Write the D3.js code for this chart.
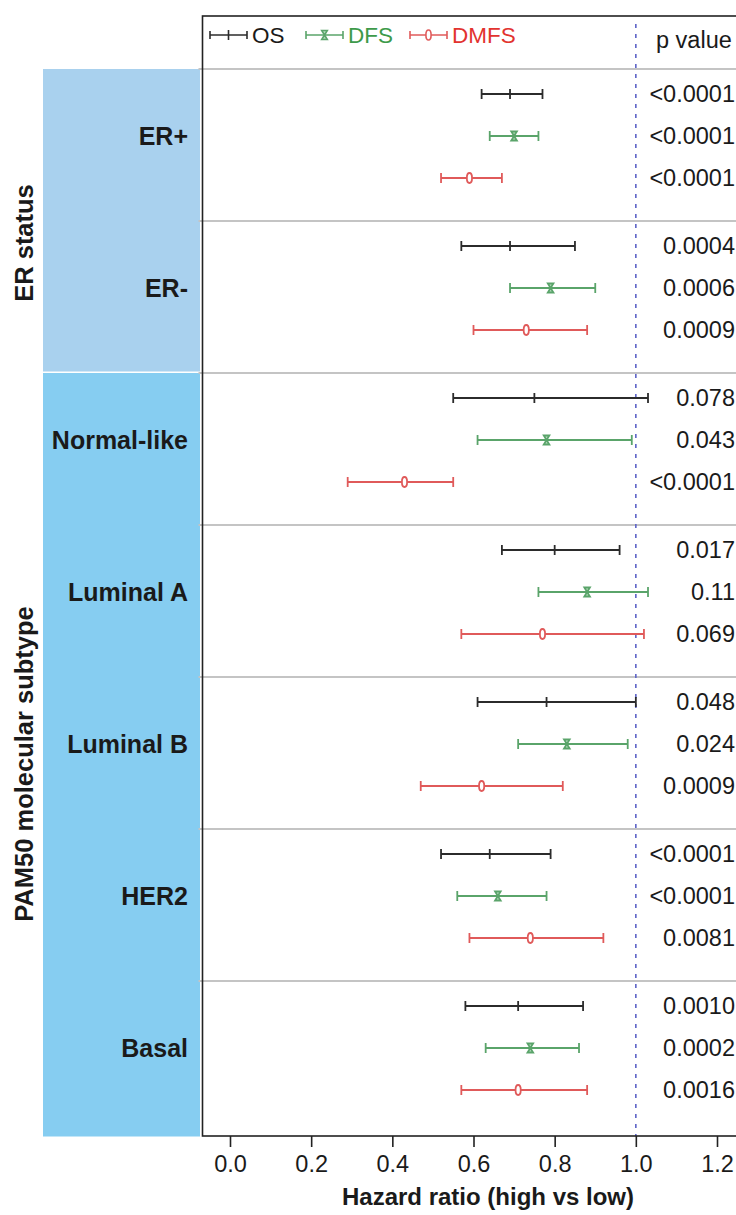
<!DOCTYPE html>
<html lang="en">
  <head>
    <meta charset="UTF-8" />
    <title>Hazard ratio forest plot</title>
    <script src="https://d3js.org/d3.v7.min.js"></script>
    <style>
      * {
        margin: 0;
        padding: 0;
      }
      body {
        background: #fff;
      }
      text {
        font-family: "Liberation Sans", Arial, Helvetica, sans-serif;
        fill: #1a1a1a;
      }
      .cat {
        font-size: 25px;
        font-weight: bold;
      }
      .side {
        font-size: 25.5px;
        font-weight: bold;
      }
      .pval {
        font-size: 23.5px;
      }
      .legend {
        font-size: 22.5px;
      }
      .axis text {
        font-size: 23.5px;
      }
      .axis-title {
        font-size: 24px;
        font-weight: bold;
      }
    </style>
  </head>

  <body></body>

  <script>
    let w = 736;
    let h = 1215;

    // data
    let groups = ["ER+", "ER-", "Normal-like", "Luminal A", "Luminal B", "HER2", "Basal"];
    let series = ["OS", "DFS", "DMFS"];
    let ticks = [0.0, 0.2, 0.4, 0.6, 0.8, 1.0, 1.2];

    let hrOS = [0.69, 0.69, 0.75, 0.8, 0.78, 0.64, 0.71];
    let loOS = [0.62, 0.57, 0.55, 0.67, 0.61, 0.52, 0.58];
    let hiOS = [0.77, 0.85, 1.03, 0.96, 1.0, 0.79, 0.87];
    let pOS = ["<0.0001", "0.0004", "0.078", "0.017", "0.048", "<0.0001", "0.0010"];

    let hrDFS = [0.7, 0.79, 0.78, 0.88, 0.83, 0.66, 0.74];
    let loDFS = [0.64, 0.69, 0.61, 0.76, 0.71, 0.56, 0.63];
    let hiDFS = [0.76, 0.9, 0.99, 1.03, 0.98, 0.78, 0.86];
    let pDFS = ["<0.0001", "0.0006", "0.043", "0.11", "0.024", "<0.0001", "0.0002"];

    let hrDMFS = [0.59, 0.73, 0.43, 0.77, 0.62, 0.74, 0.71];
    let loDMFS = [0.52, 0.6, 0.29, 0.57, 0.47, 0.59, 0.57];
    let hiDMFS = [0.67, 0.88, 0.55, 1.02, 0.82, 0.92, 0.88];
    let pDMFS = ["<0.0001", "0.0009", "<0.0001", "0.069", "0.0009", "0.0081", "0.0016"];

    // panel groups on the left
    let panels = [
      { name: "ER status", members: ["ER+", "ER-"], color: "#a9d1ee" },
      { name: "PAM50 molecular subtype", members: ["Normal-like", "Luminal A", "Luminal B", "HER2", "Basal"], color: "#86cdf1" },
    ];

    let colors = { OS: "#2b2b2b", DFS: "#5aa46a", DMFS: "#e05a5a" };
    let textColors = { OS: "#1a1a1a", DFS: "#3d9a4a", DMFS: "#e2332f" };

    let rows = [];
    groups.forEach((g, i) => {
      rows.push({ group: g, s: "OS", hr: hrOS[i], lo: loOS[i], hi: hiOS[i], p: pOS[i] });
      rows.push({ group: g, s: "DFS", hr: hrDFS[i], lo: loDFS[i], hi: hiDFS[i], p: pDFS[i] });
      rows.push({ group: g, s: "DMFS", hr: hrDMFS[i], lo: loDMFS[i], hi: hiDMFS[i], p: pDMFS[i] });
    });

    let boxTop = 16;
    let boxBottom = 1136;
    let boxLeft = 202.5;

    let x = d3.scaleLinear().domain([0, 1.2]).range([230, 717]);
    let yGroup = d3.scaleBand().domain(groups).range([67, 67 + 152 * groups.length]).padding(0);
    let yRow = d3.scalePoint().domain(series).range([27, 111]);
    let rowY = (d) => yGroup(d.group) + yRow(d.s);

    let svg = d3
      .select("body")
      .append("svg")
      .attr("width", w)
      .attr("height", h)
      .style("display", "block");

    svg.append("rect").attr("width", w).attr("height", h).attr("fill", "#fff");

    // left coloured panels
    panels.forEach((p) => {
      let top = yGroup(p.members[0]) + 2;
      let last = p.members[p.members.length - 1];
      let bottom = last == "Basal" ? boxBottom + 2 : yGroup(last) + yGroup.bandwidth() + 2;
      svg
        .append("rect")
        .attr("x", 43)
        .attr("y", top)
        .attr("width", 157)
        .attr("height", bottom - top - 1.5)
        .attr("fill", p.color);
    });

    svg
      .append("text")
      .attr("class", "side")
      .attr("text-anchor", "middle")
      .attr("transform", "translate(33,243) rotate(-90)")
      .text(panels[0].name);

    svg
      .append("text")
      .attr("class", "side")
      .attr("text-anchor", "middle")
      .attr("transform", "translate(33,764) rotate(-90)")
      .text(panels[1].name);

    // category labels
    svg
      .append("g")
      .selectAll("text")
      .data(groups)
      .enter()
      .append("text")
      .attr("class", "cat")
      .attr("x", 188)
      .attr("y", (d) => yGroup(d) + yRow("DFS"))
      .attr("dy", "0.35em")
      .attr("text-anchor", "end")
      .text((d) => d);

    // separators
    svg
      .append("g")
      .selectAll("line")
      .data(groups)
      .enter()
      .append("line")
      .attr("x1", boxLeft - 4)
      .attr("x2", w)
      .attr("y1", (d) => yGroup(d) + 2)
      .attr("y2", (d) => yGroup(d) + 2)
      .attr("stroke", "#c4c4c4")
      .attr("stroke-width", 2);

    // reference line at HR = 1
    svg
      .append("line")
      .attr("x1", x(1))
      .attr("x2", x(1))
      .attr("y1", boxTop + 8)
      .attr("y2", boxBottom)
      .attr("stroke", "#5e64c8")
      .attr("stroke-width", 1.6)
      .attr("stroke-dasharray", "4,6");

    // frame
    svg
      .append("rect")
      .attr("x", boxLeft)
      .attr("y", boxTop)
      .attr("width", 600)
      .attr("height", boxBottom - boxTop)
      .attr("fill", "none")
      .attr("stroke", "#222")
      .attr("stroke-width", 1.6);

    // error bars
    let bars = svg
      .append("g")
      .selectAll("g")
      .data(rows)
      .enter()
      .append("g")
      .attr("transform", (d) => "translate(0," + rowY(d) + ")")
      .attr("stroke", (d) => colors[d.s])
      .attr("stroke-width", 1.8)
      .attr("fill", "none");

    bars.append("line").attr("x1", (d) => x(d.lo)).attr("x2", (d) => x(d.hi));
    bars.append("line").attr("x1", (d) => x(d.lo)).attr("x2", (d) => x(d.lo)).attr("y1", -5).attr("y2", 5);
    bars.append("line").attr("x1", (d) => x(d.hi)).attr("x2", (d) => x(d.hi)).attr("y1", -5).attr("y2", 5);

    // point markers
    function marker(sel, s) {
      if (s == "OS") {
        sel.append("line").attr("y1", -5).attr("y2", 5);
      } else if (s == "DFS") {
        sel
          .append("path")
          .attr("d", "M-2.8,-4.5L2.8,-4.5L-2.8,4.5L2.8,4.5Z")
          .attr("fill", "#b9dcc0");
      } else {
        sel.append("ellipse").attr("rx", 2.6).attr("ry", 5).attr("fill", "#fff");
      }
    }

    bars.each(function (d) {
      let g = d3.select(this).append("g").attr("transform", "translate(" + x(d.hr) + ",0)");
      marker(g, d.s);
    });

    // p values
    svg
      .append("g")
      .selectAll("text")
      .data(rows)
      .enter()
      .append("text")
      .attr("class", "pval")
      .attr("x", 735)
      .attr("y", (d) => rowY(d))
      .attr("dy", "0.36em")
      .attr("text-anchor", "end")
      .text((d) => d.p);

    svg
      .append("text")
      .attr("class", "pval")
      .attr("x", 656)
      .attr("y", 48)
      .text("p value");

    // legend
    let legendX = [210, 306, 410];
    let legend = svg
      .append("g")
      .selectAll("g")
      .data(series)
      .enter()
      .append("g")
      .attr("transform", (d, i) => "translate(" + legendX[i] + ",35)");

    legend
      .append("g")
      .attr("stroke", (d) => colors[d])
      .attr("stroke-width", 1.6)
      .attr("fill", "none")
      .each(function (d) {
        let g = d3.select(this);
        g.append("line").attr("x2", 37);
        g.append("line").attr("y1", -4).attr("y2", 4);
        g.append("line").attr("x1", 37).attr("x2", 37).attr("y1", -4).attr("y2", 4);
        let m = g.append("g").attr("transform", "translate(18.5,0)");
        marker(m, d);
      });

    legend
      .append("text")
      .attr("class", "legend")
      .attr("x", 42)
      .attr("dy", "0.36em")
      .style("fill", (d) => textColors[d])
      .text((d) => d);

    // x axis
    let axis = svg
      .append("g")
      .attr("class", "axis")
      .attr("transform", "translate(0," + boxBottom + ")")
      .call(
        d3
          .axisBottom(x)
          .tickValues(ticks)
          .tickFormat(d3.format(".1f"))
          .tickSize(11)
          .tickPadding(8)
      );
    axis.select(".domain").remove();
    axis.selectAll(".tick line").attr("stroke", "#222").attr("stroke-width", 1.6);
    axis.selectAll(".tick text").attr("fill", "#1a1a1a");

    svg
      .append("text")
      .attr("class", "axis-title")
      .attr("x", 488)
      .attr("y", 1205)
      .attr("text-anchor", "middle")
      .text("Hazard ratio (high vs low)");
  </script>
</html>
